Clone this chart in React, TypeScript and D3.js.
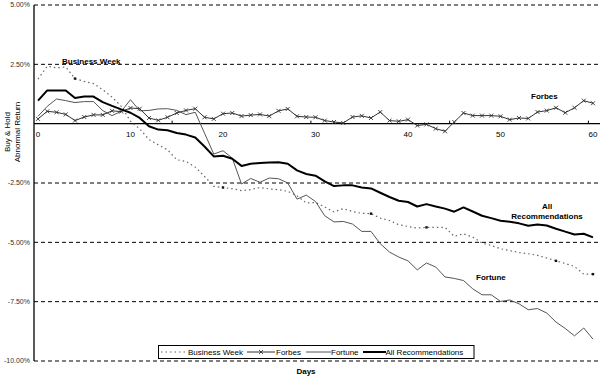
import React from "react";
import * as d3 from "d3";

const days: number[] = d3.range(0, 61);

const businessWeek: number[] = [
  1.88, 2.42, 2.35, 2.39, 1.9, 1.78, 1.69, 1.43, 1.12, 0.73, 0.1, -0.22,
  -0.67, -0.89, -1.1, -1.52, -1.59, -1.83, -2.22, -2.64, -2.69, -2.74, -2.82, -2.78,
  -2.69, -2.75, -2.78, -2.85, -3.04, -3.34, -3.32, -3.51, -3.72, -3.58, -3.7, -3.78,
  -3.79, -3.98, -4.08, -4.26, -4.33, -4.4, -4.37, -4.37, -4.37, -4.75, -4.64, -4.78,
  -5.03, -5.13, -5.27, -5.35, -5.43, -5.48, -5.55, -5.66, -5.78, -5.89, -6.02, -6.34, -6.34,
];

const forbes: number[] = [
  0.2, 0.52, 0.48, 0.39, 0.13, 0.28, 0.37, 0.37, 0.54, 0.51, 0.66, 0.63,
  0.24, 0.14, 0.27, 0.45, 0.56, 0.63, 0.27, 0.2, 0.42, 0.45, 0.32, 0.36,
  0.39, 0.32, 0.54, 0.62, 0.31, 0.28, 0.27, 0.13, 0.07, 0.03, 0.28, 0.33,
  0.24, 0.49, 0.13, 0.1, 0.17, -0.08, -0.03, -0.21, -0.32, 0.07, 0.45, 0.34,
  0.34, 0.34, 0.31, 0.17, 0.24, 0.22, 0.49, 0.55, 0.67, 0.46, 0.67, 0.97, 0.86,
];

const fortune: number[] = [
  0.31, 0.73, 1.04, 0.97, 0.89, 0.93, 0.93, 0.55, 0.34, 0.52, 1.01, 0.54,
  0.56, 0.62, 0.63, 0.56, 0.38, 0.48, -0.4, -1.28, -1.14, -1.45, -2.54, -2.31,
  -2.47, -2.29, -2.32, -2.5, -3.18, -3.01, -3.28, -3.88, -4.14, -4.12, -4.23, -4.54,
  -4.54, -5.06, -5.41, -5.62, -5.78, -6.16, -5.87, -6.04, -6.46, -6.52, -6.61, -6.96,
  -7.21, -7.21, -7.49, -7.43, -7.59, -7.84, -7.79, -7.98, -8.36, -8.63, -8.94, -8.61, -9.08,
];

const allRecommendations: number[] = [
  0.97, 1.4, 1.4, 1.4, 1.08, 1.14, 1.14, 0.91, 0.75, 0.6, 0.46, 0.24,
  -0.11, -0.25, -0.28, -0.39, -0.46, -0.58, -0.96, -1.38, -1.35, -1.48, -1.78, -1.69,
  -1.66, -1.64, -1.63, -1.69, -1.97, -2.12, -2.19, -2.43, -2.63, -2.6, -2.6, -2.69,
  -2.73, -2.91, -3.09, -3.25, -3.3, -3.49, -3.39, -3.49, -3.58, -3.71, -3.53, -3.7,
  -3.88, -3.98, -4.09, -4.13, -4.2, -4.3, -4.25, -4.29, -4.43, -4.55, -4.67, -4.64, -4.79,
];

const bwMarkerDays: number[] = [4, 20, 36, 42, 56, 60];
const yTicks: number[] = [5, 2.5, -2.5, -5, -7.5, -10];
const xTickLabels: number[] = [0, 10, 20, 30, 40, 50, 60];
const xTickMarks: number[] = [14.5, 29.5, 44.5, 59.5];

const FONT = "Liberation Sans, Arial, sans-serif";

export default function App() {
  const x = d3.scaleLinear().domain([0, 60]).range([38, 593]);
  const y = d3.scaleLinear().domain([-10, 5]).range([361, 5]);
  const line = (vals: number[]) =>
    d3.line<number>().x((_, i) => x(days[i])).y((v) => y(v))(vals) || "";

  const fmt = (v: number) => v.toFixed(2) + "%";

  return (
    <div style={{ position: "absolute", left: 0, top: 0 }}>
      <svg width={600} height={377} style={{ display: "block", background: "#fff" }}>
        {/* gridlines */}
        {yTicks.map((t) => (
          <line key={t} x1={34} x2={600} y1={y(t)} y2={y(t)} stroke="#000" strokeWidth={1} strokeDasharray="4,3" />
        ))}
        {/* y axis */}
        <line x1={34} x2={34} y1={y(5)} y2={y(-10)} stroke="#000" strokeWidth={1.3} />
        {/* x axis (zero line) */}
        <line x1={34} x2={600} y1={y(0)} y2={y(0)} stroke="#000" strokeWidth={1.3} />
        {xTickMarks.map((t) => (
          <line key={t} x1={x(t)} x2={x(t)} y1={y(0) - 3} y2={y(0)} stroke="#000" strokeWidth={1} />
        ))}
        {yTicks.map((t) => (
          <text key={t} x={30} y={y(t)} dy="0.35em" textAnchor="end" fontFamily={FONT} fontSize={7} fill="#333">
            {fmt(t)}
          </text>
        ))}
        {xTickLabels.map((t) => (
          <text key={t} x={x(t)} y={y(0) + 13} textAnchor="middle" fontFamily={FONT} fontSize={8} fill="#000">
            {t}
          </text>
        ))}

        {/* series */}
        <path d={line(businessWeek)} fill="none" stroke="#666" strokeWidth={1.2} strokeDasharray="1.5,3" />
        {bwMarkerDays.map((d) => (
          <rect key={d} x={x(d) - 1.2} y={y(businessWeek[d]) - 1.2} width={2.4} height={2.4} fill="#111" />
        ))}
        <path d={line(fortune)} fill="none" stroke="#555" strokeWidth={1} />
        <path d={line(forbes)} fill="none" stroke="#333" strokeWidth={1} />
        {forbes.map((v, i) => (
          <path
            key={i}
            d={`M${x(days[i]) - 2},${y(v) - 2}L${x(days[i]) + 2},${y(v) + 2}M${x(days[i]) - 2},${y(v) + 2}L${x(days[i]) + 2},${y(v) - 2}`}
            stroke="#333"
            strokeWidth={0.9}
          />
        ))}
        <path d={line(allRecommendations)} fill="none" stroke="#000" strokeWidth={2} strokeLinejoin="round" />

        {/* series labels */}
        <text x={62} y={63.5} fontFamily={FONT} fontSize={8} fontWeight="bold">Business Week</text>
        <text x={531} y={98.5} fontFamily={FONT} fontSize={8} fontWeight="bold">Forbes</text>
        <text x={547} y={209} textAnchor="middle" fontFamily={FONT} fontSize={8} fontWeight="bold">All</text>
        <text x={547} y={218.5} textAnchor="middle" fontFamily={FONT} fontSize={8} fontWeight="bold">Recommendations</text>
        <text x={476} y={279.5} fontFamily={FONT} fontSize={8} fontWeight="bold">Fortune</text>

        {/* axis titles */}
        <text transform={`translate(10,132) rotate(-90)`} textAnchor="middle" fontFamily={FONT} fontSize={8}>Buy &amp; Hold</text>
        <text transform={`translate(20,132) rotate(-90)`} textAnchor="middle" fontFamily={FONT} fontSize={8}>Abnormal Return</text>
        <text x={306} y={374} textAnchor="middle" fontFamily={FONT} fontSize={8} fontWeight="bold">Days</text>

        {/* legend */}
        <rect x={158.5} y={345.5} width={315.5} height={13} fill="#fff" stroke="#000" strokeWidth={1} />
        <line x1={161} x2={185} y1={352} y2={352} stroke="#666" strokeWidth={1.2} strokeDasharray="1.5,3" />
        <text x={188} y={354.8} fontFamily={FONT} fontSize={8}>Business Week</text>
        <line x1={247} x2={275} y1={352} y2={352} stroke="#333" strokeWidth={1} />
        <path d="M259,350L263,354M259,354L263,350" stroke="#333" strokeWidth={0.9} />
        <text x={276} y={354.8} fontFamily={FONT} fontSize={8}>Forbes</text>
        <line x1={306} x2={331} y1={352} y2={352} stroke="#555" strokeWidth={1} />
        <text x={331} y={354.8} fontFamily={FONT} fontSize={8}>Fortune</text>
        <line x1={363} x2={386} y1={352} y2={352} stroke="#000" strokeWidth={2} />
        <text x={385.5} y={354.8} fontFamily={FONT} fontSize={8}>All Recommendations</text>
      </svg>
    </div>
  );
}
